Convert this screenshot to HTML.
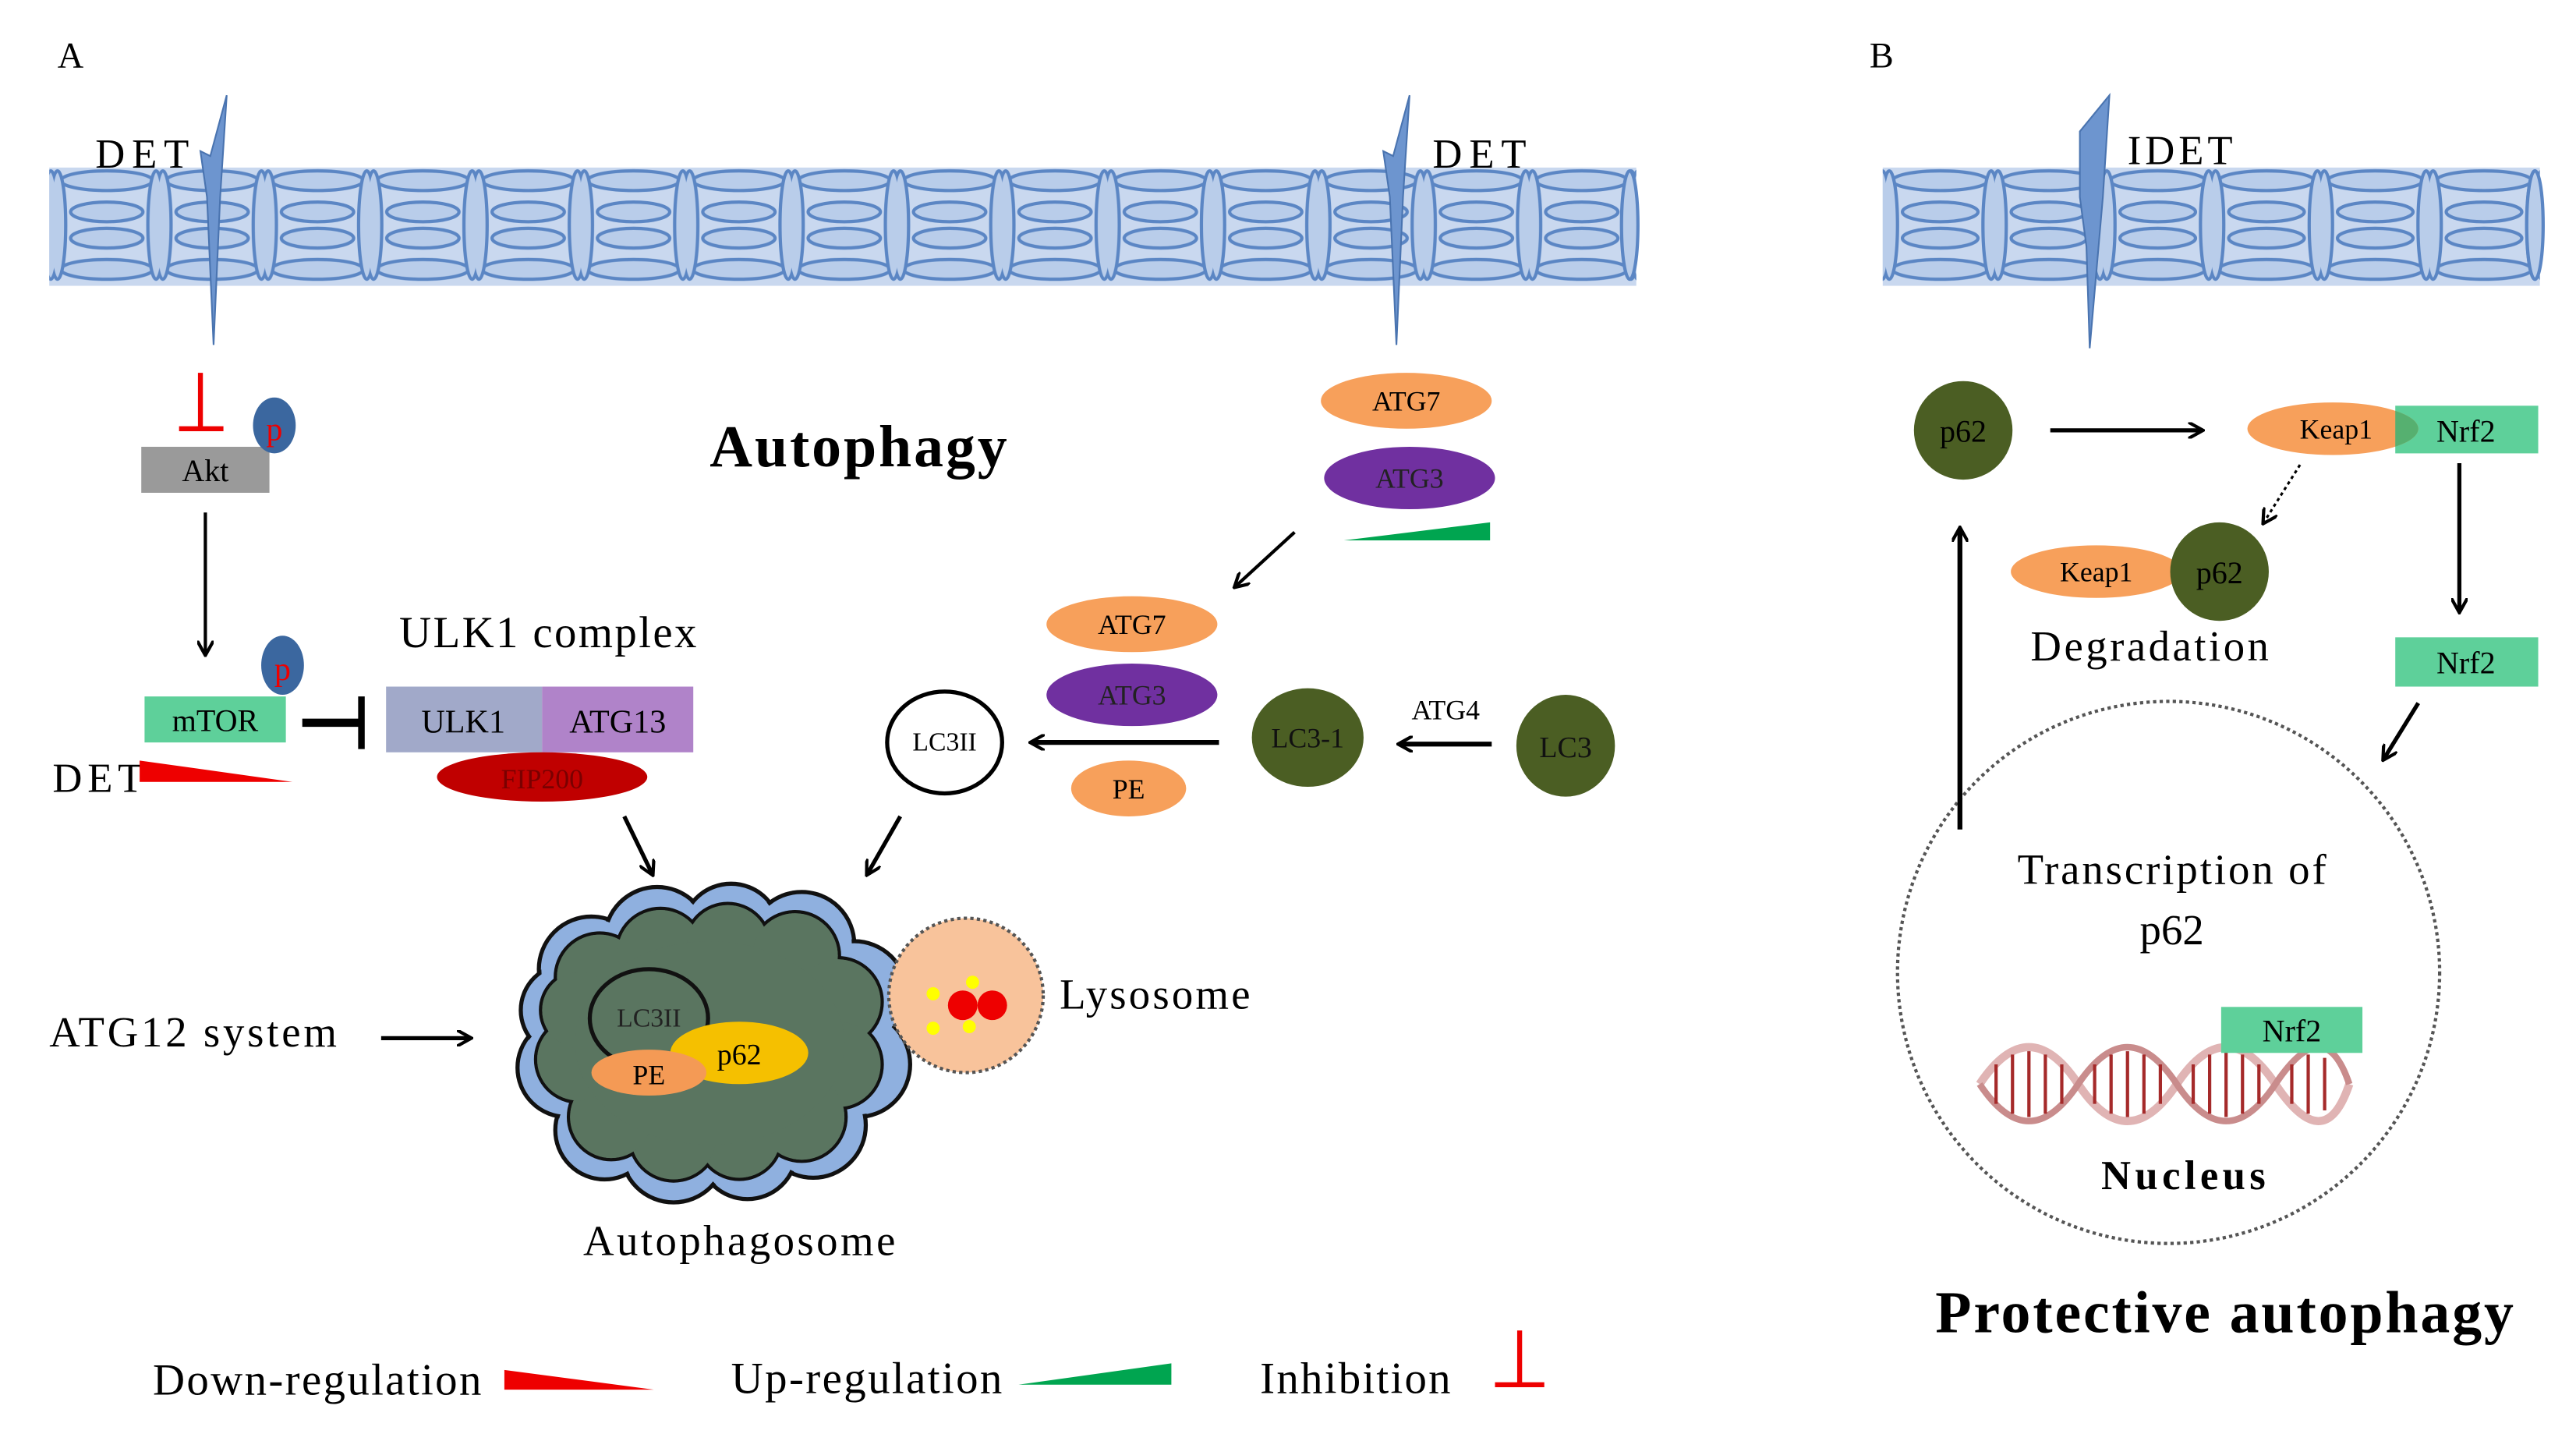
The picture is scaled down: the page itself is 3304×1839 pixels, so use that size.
<!DOCTYPE html>
<html><head><meta charset="utf-8"><style>
html,body{margin:0;padding:0;background:#fff;}
svg{display:block;}
text{font-family:"Liberation Serif",serif;}
</style></head><body>
<svg width="3304" height="1839" viewBox="0 0 1568 873" preserveAspectRatio="none" xmlns="http://www.w3.org/2000/svg">
<defs>
<marker id="ah" markerWidth="10" markerHeight="10" refX="8" refY="5" orient="auto" markerUnits="userSpaceOnUse">
<path d="M0,0 L9,5 L0,10" fill="none" stroke="#000" stroke-width="2"/></marker>
<pattern id="memA" x="33" y="100" width="64.13" height="80" patternUnits="userSpaceOnUse">
<g fill="#b9cdea" stroke="#5b86c4" stroke-width="2">
<ellipse cx="32" cy="10" rx="28" ry="6"/>
<ellipse cx="32" cy="29" rx="22" ry="6"/>
<ellipse cx="32" cy="45" rx="22" ry="6"/>
<ellipse cx="32" cy="64" rx="28" ry="6"/>
<ellipse cx="2" cy="37" rx="5" ry="33"/>
<ellipse cx="62" cy="37" rx="5" ry="33"/>
</g></pattern>
<pattern id="memB" x="1148" y="100" width="66.2" height="80" patternUnits="userSpaceOnUse">
<g fill="#b9cdea" stroke="#5b86c4" stroke-width="2">
<ellipse cx="33" cy="10" rx="29" ry="6"/>
<ellipse cx="33" cy="29" rx="23" ry="6"/>
<ellipse cx="33" cy="45" rx="23" ry="6"/>
<ellipse cx="33" cy="64" rx="29" ry="6"/>
<ellipse cx="2" cy="37" rx="5" ry="33"/>
<ellipse cx="64" cy="37" rx="5" ry="33"/>
</g></pattern>
<clipPath id="nrfclip"><rect x="1458" y="247" width="87" height="29"/></clipPath>
</defs>

<text x="35" y="41" font-size="22">A</text>
<text x="1138" y="41" font-size="22">B</text>

<!-- membrane A -->
<rect x="30" y="102" width="966" height="72" fill="#c9d8ef"/>
<rect x="30" y="100" width="966" height="80" fill="url(#memA)"/>
<ellipse cx="992" cy="137" rx="5" ry="33" fill="#b9cdea" stroke="#5b86c4" stroke-width="2"/>
<polygon points="128,95 138,58 134,120 130,210 126,120 122,92" fill="#6d95cf" stroke="#4a74b0" stroke-width="1"/>
<polygon points="848,95 858,58 854,120 850,210 846,120 842,92" fill="#6d95cf" stroke="#4a74b0" stroke-width="1"/>
<text x="58" y="102" font-size="25" textLength="57">DET</text>
<text x="872" y="102" font-size="25" textLength="57">DET</text>

<!-- membrane B -->
<rect x="1146" y="102" width="400" height="72" fill="#c9d8ef"/>
<rect x="1146" y="100" width="400" height="80" fill="url(#memB)"/>
<ellipse cx="1543" cy="137" rx="5" ry="33" fill="#b9cdea" stroke="#5b86c4" stroke-width="2"/>
<polygon points="1266,80 1284,58 1280,120 1272,212 1270,150 1266,120" fill="#6d95cf" stroke="#4a74b0" stroke-width="1"/>
<text x="1295" y="100" font-size="25" textLength="64">IDET</text>

<!-- left pathway -->
<line x1="122" y1="227" x2="122" y2="261" stroke="#e00" stroke-width="3"/>
<line x1="109" y1="261" x2="136" y2="261" stroke="#e00" stroke-width="3"/>
<rect x="86" y="272" width="78" height="28" fill="#9a9a9a"/>
<text x="125" y="293" font-size="19" text-anchor="middle">Akt</text>
<ellipse cx="167" cy="259" rx="13" ry="17" fill="#3b679f"/>
<text x="167" y="268" font-size="20" fill="#e00" text-anchor="middle">p</text>
<line x1="125" y1="312" x2="125" y2="398" stroke="#000" stroke-width="2" marker-end="url(#ah)"/>
<rect x="88" y="424" width="86" height="28" fill="#5ed09a"/>
<text x="131" y="445" font-size="19" text-anchor="middle">mTOR</text>
<ellipse cx="172" cy="405" rx="13" ry="18" fill="#3b679f"/>
<text x="172" y="414" font-size="20" fill="#e00" text-anchor="middle">p</text>
<line x1="184" y1="440" x2="219" y2="440" stroke="#000" stroke-width="5"/>
<line x1="220" y1="424" x2="220" y2="456" stroke="#000" stroke-width="4"/>
<text x="32" y="482" font-size="25" textLength="55">DET</text>
<polygon points="85,463 178,476 85,476" fill="#e00"/>

<text x="243" y="394" font-size="27" textLength="181">ULK1 complex</text>
<rect x="235" y="418" width="95" height="40" fill="#a1a9c9"/>
<rect x="330" y="418" width="92" height="40" fill="#b083c9"/>
<text x="282" y="446" font-size="20" text-anchor="middle">ULK1</text>
<text x="376" y="446" font-size="20" text-anchor="middle">ATG13</text>
<ellipse cx="330" cy="473" rx="64" ry="15" fill="#c00000"/>
<text x="330" y="480" font-size="17" fill="#7a0000" text-anchor="middle">FIP200</text>

<text x="432" y="284" font-size="36" font-weight="bold" textLength="181">Autophagy</text>

<!-- right pathway -->
<ellipse cx="856" cy="244" rx="52" ry="17" fill="#f7a05b"/>
<text x="856" y="250" font-size="17" text-anchor="middle">ATG7</text>
<ellipse cx="858" cy="291" rx="52" ry="19" fill="#7030a0"/>
<text x="858" y="297" font-size="17" text-anchor="middle" fill="#222">ATG3</text>
<polygon points="818,329 907,318 907,329" fill="#00a550"/>
<line x1="788" y1="324" x2="752" y2="357" stroke="#000" stroke-width="2" marker-end="url(#ah)"/>
<ellipse cx="689" cy="380" rx="52" ry="17" fill="#f7a05b"/>
<text x="689" y="386" font-size="17" text-anchor="middle">ATG7</text>
<ellipse cx="689" cy="423" rx="52" ry="19" fill="#7030a0"/>
<text x="689" y="429" font-size="17" text-anchor="middle" fill="#222">ATG3</text>
<ellipse cx="687" cy="480" rx="35" ry="17" fill="#f7a05b"/>
<text x="687" y="486" font-size="17" text-anchor="middle">PE</text>
<ellipse cx="575" cy="452" rx="35" ry="31" fill="#fff" stroke="#000" stroke-width="2.5"/>
<text x="575" y="457" font-size="16" text-anchor="middle">LC3II</text>
<line x1="742" y1="452" x2="628" y2="452" stroke="#000" stroke-width="3" marker-end="url(#ah)"/>
<ellipse cx="796" cy="449" rx="34" ry="30" fill="#4b5e23"/>
<text x="796" y="455" font-size="17" text-anchor="middle" fill="#111">LC3-1</text>
<text x="880" y="438" font-size="17" text-anchor="middle">ATG4</text>
<line x1="908" y1="453" x2="852" y2="453" stroke="#000" stroke-width="3" marker-end="url(#ah)"/>
<ellipse cx="953" cy="454" rx="30" ry="31" fill="#4b5e23"/>
<text x="953" y="461" font-size="18" text-anchor="middle" fill="#111">LC3</text>

<line x1="380" y1="497" x2="397" y2="532" stroke="#000" stroke-width="2.5" marker-end="url(#ah)"/>
<line x1="548" y1="497" x2="528" y2="532" stroke="#000" stroke-width="2.5" marker-end="url(#ah)"/>

<!-- autophagosome cloud -->
<g stroke="#111" stroke-width="2.5" fill="#8fb0df">
<circle cx="360" cy="590" r="32"/><circle cx="400" cy="572" r="32"/><circle cx="445" cy="568" r="30"/>
<circle cx="488" cy="575" r="32"/><circle cx="520" cy="605" r="32"/><circle cx="522" cy="648" r="32"/>
<circle cx="495" cy="685" r="32"/><circle cx="455" cy="700" r="30"/><circle cx="410" cy="700" r="32"/>
<circle cx="368" cy="688" r="30"/><circle cx="345" cy="650" r="30"/><circle cx="345" cy="615" r="28"/>
</g>
<g fill="#8fb0df">
<circle cx="360" cy="590" r="30.5"/><circle cx="400" cy="572" r="30.5"/><circle cx="445" cy="568" r="28.5"/>
<circle cx="488" cy="575" r="30.5"/><circle cx="520" cy="605" r="30.5"/><circle cx="522" cy="648" r="30.5"/>
<circle cx="495" cy="685" r="30.5"/><circle cx="455" cy="700" r="28.5"/><circle cx="410" cy="700" r="30.5"/>
<circle cx="368" cy="688" r="28.5"/><circle cx="345" cy="650" r="28.5"/><circle cx="345" cy="615" r="26.5"/>
<ellipse cx="435" cy="635" rx="95" ry="75"/>
</g>
<g stroke="#111" stroke-width="2" fill="#5a7560">
<circle cx="365" cy="595" r="27"/><circle cx="402" cy="580" r="27"/><circle cx="443" cy="576" r="26"/>
<circle cx="484" cy="582" r="27"/><circle cx="510" cy="610" r="27"/><circle cx="510" cy="648" r="27"/>
<circle cx="488" cy="680" r="27"/><circle cx="450" cy="692" r="26"/><circle cx="410" cy="692" r="27"/>
<circle cx="372" cy="680" r="26"/><circle cx="352" cy="645" r="26"/><circle cx="353" cy="615" r="24"/>
</g>
<g fill="#5a7560">
<circle cx="365" cy="595" r="26"/><circle cx="402" cy="580" r="26"/><circle cx="443" cy="576" r="25"/>
<circle cx="484" cy="582" r="26"/><circle cx="510" cy="610" r="26"/><circle cx="510" cy="648" r="26"/>
<circle cx="488" cy="680" r="26"/><circle cx="450" cy="692" r="25"/><circle cx="410" cy="692" r="26"/>
<circle cx="372" cy="680" r="25"/><circle cx="352" cy="645" r="25"/><circle cx="353" cy="615" r="23"/>
<ellipse cx="432" cy="635" rx="82" ry="62"/>
</g>
<ellipse cx="395" cy="620" rx="36" ry="30" fill="none" stroke="#111" stroke-width="2.5"/>
<text x="395" y="625" font-size="16" text-anchor="middle" fill="#222">LC3II</text>
<ellipse cx="450" cy="641" rx="42" ry="19" fill="#f5c000"/>
<text x="450" y="648" font-size="18" text-anchor="middle">p62</text>
<ellipse cx="395" cy="653" rx="35" ry="14" fill="#f49a55"/>
<text x="395" y="660" font-size="17" text-anchor="middle">PE</text>

<circle cx="588" cy="606" r="47" fill="#f8c39b" stroke="#555" stroke-width="2" stroke-dasharray="2,2"/>
<circle cx="586" cy="612" r="9" fill="#e00"/><circle cx="604" cy="612" r="9" fill="#e00"/>
<circle cx="568" cy="605" r="4" fill="#ff0"/><circle cx="592" cy="598" r="4" fill="#ff0"/>
<circle cx="568" cy="626" r="4" fill="#ff0"/><circle cx="590" cy="625" r="4" fill="#ff0"/>
<text x="645" y="614" font-size="26" textLength="116">Lysosome</text>
<text x="30" y="637" font-size="26" textLength="175">ATG12 system</text>
<line x1="232" y1="632" x2="286" y2="632" stroke="#000" stroke-width="2.5" marker-end="url(#ah)"/>
<text x="355" y="764" font-size="26" textLength="190">Autophagosome</text>

<!-- legend -->
<text x="93" y="849" font-size="27" textLength="200">Down-regulation</text>
<polygon points="307,834 398,846 307,846" fill="#e00"/>
<text x="445" y="848" font-size="27" textLength="165">Up-regulation</text>
<polygon points="620,843 713,830 713,843" fill="#00a550"/>
<text x="767" y="848" font-size="27" textLength="116">Inhibition</text>
<line x1="925" y1="810" x2="925" y2="843" stroke="#e00" stroke-width="3"/>
<line x1="910" y1="843" x2="940" y2="843" stroke="#e00" stroke-width="3"/>

<!-- panel B -->
<circle cx="1195" cy="262" r="30" fill="#4b5e23"/>
<text x="1195" y="269" font-size="19" text-anchor="middle">p62</text>
<line x1="1248" y1="262" x2="1340" y2="262" stroke="#000" stroke-width="2.5" marker-end="url(#ah)"/>
<rect x="1458" y="247" width="87" height="29" fill="#5ed09a"/>
<ellipse cx="1420" cy="261" rx="52" ry="16" fill="#f7a05b"/>
<ellipse cx="1420" cy="261" rx="52" ry="16" fill="#56b070" clip-path="url(#nrfclip)"/>
<text x="1422" y="267" font-size="17" text-anchor="middle">Keap1</text>
<text x="1501" y="269" font-size="19" text-anchor="middle">Nrf2</text>
<line x1="1400" y1="283" x2="1378" y2="318" stroke="#000" stroke-width="1.5" stroke-dasharray="2,2" marker-end="url(#ah)"/>
<ellipse cx="1276" cy="348" rx="52" ry="16" fill="#f7a05b"/>
<text x="1276" y="354" font-size="17" text-anchor="middle">Keap1</text>
<circle cx="1351" cy="348" r="30" fill="#4b5e23"/>
<text x="1351" y="355" font-size="19" text-anchor="middle">p62</text>
<text x="1236" y="402" font-size="26" textLength="145">Degradation</text>
<line x1="1497" y1="282" x2="1497" y2="372" stroke="#000" stroke-width="2.5" marker-end="url(#ah)"/>
<rect x="1458" y="388" width="87" height="30" fill="#5ed09a"/>
<text x="1501" y="410" font-size="19" text-anchor="middle">Nrf2</text>
<line x1="1472" y1="428" x2="1451" y2="462" stroke="#000" stroke-width="2.5" marker-end="url(#ah)"/>
<circle cx="1320" cy="592" r="165" fill="none" stroke="#555" stroke-width="2" stroke-dasharray="2,2"/>
<line x1="1193" y1="505" x2="1193" y2="322" stroke="#000" stroke-width="3" marker-end="url(#ah)"/>
<text x="1228" y="538" font-size="26" textLength="188">Transcription of</text>
<text x="1322" y="575" font-size="26" text-anchor="middle">p62</text>
<!-- DNA -->
<g fill="none">
<path d="M1205,660 C1225,630 1245,630 1265,660 S1305,690 1325,660 S1365,630 1385,660 S1420,690 1430,660" stroke="#e0b4b4" stroke-width="5"/>
<path d="M1205,660 C1225,690 1245,690 1265,660 S1305,630 1325,660 S1365,690 1385,660 S1420,630 1430,660" stroke="#c98c8c" stroke-width="4"/>
<g stroke="#a52a2a" stroke-width="2">
<line x1="1215" y1="648" x2="1215" y2="672"/><line x1="1225" y1="642" x2="1225" y2="678"/><line x1="1235" y1="640" x2="1235" y2="680"/><line x1="1245" y1="642" x2="1245" y2="678"/><line x1="1255" y1="648" x2="1255" y2="672"/>
<line x1="1275" y1="648" x2="1275" y2="672"/><line x1="1285" y1="642" x2="1285" y2="678"/><line x1="1295" y1="640" x2="1295" y2="680"/><line x1="1305" y1="642" x2="1305" y2="678"/><line x1="1315" y1="648" x2="1315" y2="672"/>
<line x1="1335" y1="648" x2="1335" y2="672"/><line x1="1345" y1="642" x2="1345" y2="678"/><line x1="1355" y1="640" x2="1355" y2="680"/><line x1="1365" y1="642" x2="1365" y2="678"/><line x1="1375" y1="648" x2="1375" y2="672"/>
<line x1="1395" y1="648" x2="1395" y2="672"/><line x1="1405" y1="642" x2="1405" y2="678"/><line x1="1415" y1="644" x2="1415" y2="676"/>
</g></g>
<rect x="1352" y="613" width="86" height="28" fill="#5ed09a"/>
<text x="1395" y="634" font-size="19" text-anchor="middle">Nrf2</text>
<text x="1279" y="724" font-size="25" font-weight="bold" textLength="100">Nucleus</text>
<text x="1178" y="811" font-size="36" font-weight="bold" textLength="352">Protective autophagy</text>
</svg>
</body></html>
